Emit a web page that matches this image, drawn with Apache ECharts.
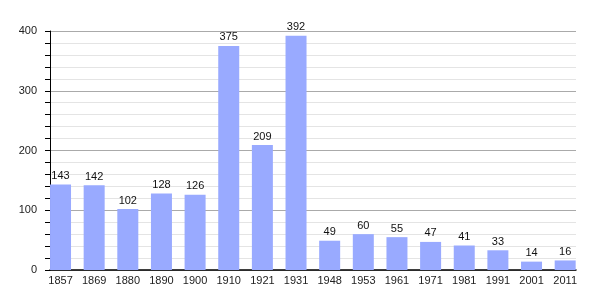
<!DOCTYPE html>
<html><head><meta charset="utf-8">
<script src="https://cdn.jsdelivr.net/npm/echarts@6/dist/echarts.min.js"></script>
<style>html,body{margin:0;padding:0;background:#fff}#c{width:605px;height:300px}</style>
</head><body><div id="c"></div>
<script>
const years = ['1857','1869','1880','1890','1900','1910','1921','1931','1948','1953','1961','1971','1981','1991','2001','2011'];
const population = [143,142,102,128,126,375,209,392,49,60,55,47,41,33,14,16];
const yTicks = [0,100,200,300,400];

const chart = echarts.init(document.getElementById('c'), null, {renderer:'canvas'});
const font = 'Liberation Sans, Arial, sans-serif';
chart.setOption({
  animation:false,
  backgroundColor:'#fff',
  grid:[
    {left:43.7, right:23, top:31, bottom:30},
    {left:50, right:29, top:31, bottom:30}
  ],
  xAxis:[
    {gridIndex:0, type:'category', data:years, boundaryGap:true,
     axisLine:{show:false}, axisTick:{show:false},
     axisLabel:{color:'#222', fontSize:11, fontFamily:font, margin:5}},
    {gridIndex:1, type:'value', min:0, max:1,
     axisLine:{show:true, lineStyle:{color:'#000', width:1.5}}, axisTick:{show:false},
     axisLabel:{show:false}, splitLine:{show:false}}
  ],
  yAxis:[
    {gridIndex:0, type:'value', min:0, max:400, interval:20, show:false, splitLine:{show:false}},
    {gridIndex:1, type:'value', min:0, max:400, interval:20,
     axisLine:{show:true, lineStyle:{color:'#000', width:1}},
     axisTick:{show:true, length:5, lineStyle:{color:'#000'}},
     axisLabel:{color:'#222', fontSize:11, fontFamily:font, margin:13,
       formatter:v => yTicks.includes(v) ? String(v) : ''},
     splitLine:{show:true, lineStyle:{color:['#aaaaaa','#e4e4e4','#e4e4e4','#e4e4e4','#e4e4e4'], width:1}}}
  ],
  series:[{
    type:'bar', xAxisIndex:0, yAxisIndex:0, data:population, barWidth:21,
    itemStyle:{color:'#99aaff'},
    label:{show:true, position:'top', distance:3, color:'#111', fontSize:11, fontFamily:font}
  }]
});
</script></body></html>
